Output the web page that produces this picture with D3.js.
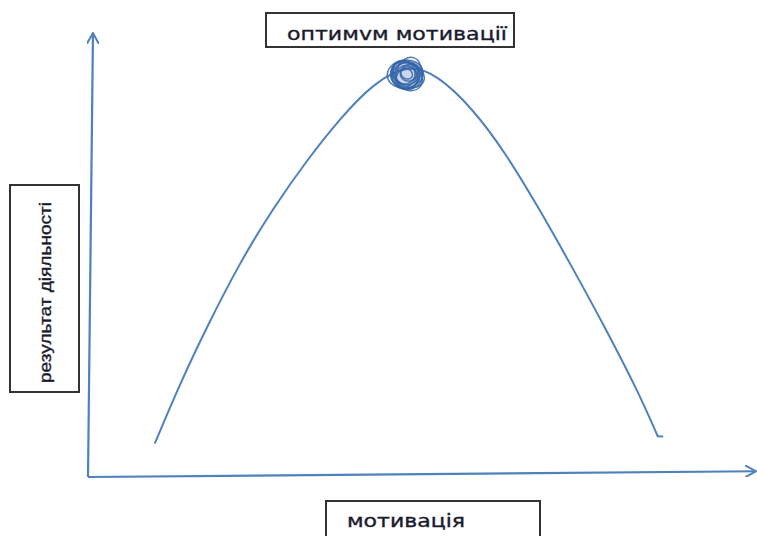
<!DOCTYPE html>
<html lang="uk">
<head>
  <meta charset="UTF-8">
  <title>Оптимум мотивації</title>
  <style>
    body { margin: 0; background: #fff; }
  </style>
</head>
<body>
  <script src="https://cdn.jsdelivr.net/npm/d3@7"></script>
  <script>
    const width = 757
    const height = 536

    // крива: мотивація (0..100) -> результат діяльності (0..100)
    const motivation = [10.1, 14.0, 17.9, 22.9, 27.9, 33.0, 38.0, 42.9, 48.2, 52.6, 57.8, 62.8, 67.8, 72.9, 77.9, 82.8, 85.8]
    const result     = [7.7, 21.5, 33.8, 48.4, 60.6, 71.4, 80.8, 88.6, 93.0, 90.6, 83.2, 73.2, 60.8, 47.3, 33.6, 19.4, 9.2]

    // маленький загин наприкінці лінії
    const tail = [[85.8, 9.2], [86.5, 9.1]]

    // точка оптимуму
    const optimum = { x: 48.0, y: 90.8 }

    // осі (трохи похилені, як на малюнку від руки)
    const xAxisLine = [[0, 0], [100.6, 1.3]]
    const yAxisLine = [[0, 0], [0.75, 100]]

    const labelTop = "оптимvм мотивації"
    const labelY = "результат діяльності"
    const labelX = "мотивація"

    const blue = "#4f81bd"
    const dark = "#3465a8"

    const svg = d3.select("body")
      .append("svg")
      .attr("width", width)
      .attr("height", height)

    const x = d3.scaleLinear().domain([0, 100]).range([88, 752])
    const y = d3.scaleLinear().domain([0, 100]).range([477, 33])

    const points = motivation.map((m, i) => [m, result[i]])

    // стрілки осей
    svg.append("defs").append("marker")
      .attr("id", "arrow")
      .attr("viewBox", "0 0 12 12")
      .attr("refX", 11)
      .attr("refY", 6)
      .attr("markerWidth", 12)
      .attr("markerHeight", 12)
      .attr("markerUnits", "userSpaceOnUse")
      .attr("orient", "auto")
      .append("path")
      .attr("d", "M1,0.5 L11,6 L1,11.5")
      .attr("fill", "none")
      .attr("stroke", blue)
      .attr("stroke-width", 2)
      .attr("stroke-linecap", "round")

    const line = d3.line().x(d => x(d[0])).y(d => y(d[1]))

    svg.append("path")
      .attr("d", line(xAxisLine))
      .attr("stroke", blue)
      .attr("stroke-width", 2.2)
      .attr("fill", "none")
      .attr("marker-end", "url(#arrow)")

    svg.append("path")
      .attr("d", line(yAxisLine))
      .attr("stroke", blue)
      .attr("stroke-width", 2.2)
      .attr("fill", "none")
      .attr("marker-end", "url(#arrow)")

    // сама крива
    svg.append("path")
      .datum(points)
      .attr("d", line.curve(d3.curveBasis))
      .attr("stroke", blue)
      .attr("stroke-width", 2)
      .attr("fill", "none")
      .attr("stroke-linecap", "round")

    svg.append("path")
      .datum(tail)
      .attr("d", line.curve(d3.curveLinear))
      .attr("stroke", blue)
      .attr("stroke-width", 2)
      .attr("fill", "none")
      .attr("stroke-linecap", "round")

    // "каракуля" на вершині
    const loops = [
      [18, 14, -8], [16, 14, 12], [17, 12, 25], [14, 13, -20],
      [12, 11, 5], [17, 13, 40], [10, 9, -35], [15, 11, 60],
      [8, 7, 10], [13, 9, -50], [6, 5, 30], [16, 12, -70]
    ]
    const cx = x(optimum.x), cy = y(optimum.y)
    const scribble = svg.append("g")

    scribble.append("ellipse")
      .attr("cx", cx).attr("cy", cy)
      .attr("rx", 17).attr("ry", 14)
      .attr("fill", dark)
      .attr("opacity", 0.25)

    scribble.selectAll("ellipse.loop")
      .data(loops)
      .join("ellipse")
      .attr("class", "loop")
      .attr("cx", (d, i) => cx + (i % 3 - 1) * 1.5)
      .attr("cy", (d, i) => cy + (i % 2) * 1.5)
      .attr("rx", d => d[0])
      .attr("ry", d => d[1])
      .attr("transform", d => `rotate(${d[2]},${cx},${cy})`)
      .attr("fill", "none")
      .attr("stroke", dark)
      .attr("stroke-width", 1.5)
      .attr("opacity", 0.85)

    // підписи в рамках
    const boxes = svg.append("g")
      .attr("fill", "none")
      .attr("stroke", "#333")
      .attr("stroke-width", 2)

    boxes.append("rect").attr("x", 266).attr("y", 13).attr("width", 248).attr("height", 34)
    boxes.append("rect").attr("x", 10).attr("y", 185).attr("width", 69).attr("height", 207)
    boxes.append("rect").attr("x", 326).attr("y", 501).attr("width", 214).attr("height", 40)

    const textStyle = sel => sel
      .attr("fill", "#1a1a2e")
      .attr("stroke", "#1a1a2e")
      .attr("stroke-width", 0.35)
      .attr("lengthAdjust", "spacingAndGlyphs")

    svg.append("text")
      .attr("x", 287)
      .attr("y", 40)
      .attr("font-family", "DejaVu Sans, Verdana, sans-serif")
      .attr("font-size", 18)
      .attr("textLength", 220)
      .call(textStyle)
      .text(labelTop)

    svg.append("text")
      .attr("transform", "translate(51,383) rotate(-90)")
      .attr("font-family", "Liberation Sans, Arial, sans-serif")
      .attr("font-size", 17)
      .attr("textLength", 181)
      .call(textStyle)
      .text(labelY)

    svg.append("text")
      .attr("x", 347)
      .attr("y", 527)
      .attr("font-family", "DejaVu Sans, Verdana, sans-serif")
      .attr("font-size", 17)
      .attr("textLength", 118)
      .call(textStyle)
      .text(labelX)
  </script>
</body>
</html>
